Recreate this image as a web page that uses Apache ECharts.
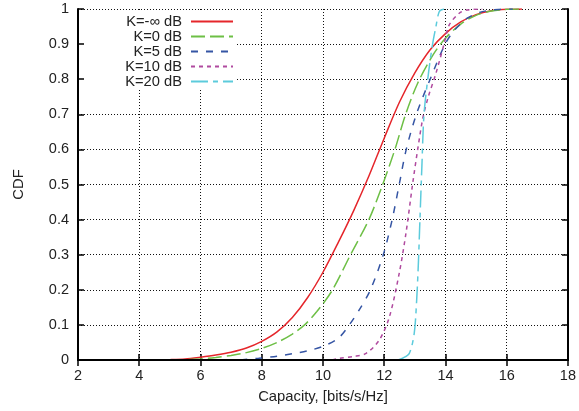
<!DOCTYPE html>
<html>
<head>
<meta charset="utf-8">
<script src="https://cdn.jsdelivr.net/npm/echarts@6/dist/echarts.min.js"></script>
<style>
  html, body { margin: 0; padding: 0; background: #fff; }
  #chart { width: 579px; height: 411px; }
</style>
</head>
<body>
<div id="chart"></div>
<script>
// Capacity CDFs for different Rician K-factors
const seriesNames = ['K=-\u221E dB', 'K=0 dB', 'K=5 dB', 'K=10 dB', 'K=20 dB'];

const capRayleigh = [4.5, 5, 5.5, 6, 6.5, 7, 7.5, 8, 8.5, 9, 9.5, 10, 10.5, 11, 11.5, 12, 12.5, 13, 13.5, 14, 14.5, 15, 15.5, 16, 16.5];
const cdfRayleigh = [0, 0.001, 0.003, 0.008, 0.014, 0.022, 0.034, 0.053, 0.08, 0.121, 0.178, 0.25, 0.335, 0.425, 0.524, 0.632, 0.735, 0.818, 0.884, 0.93, 0.963, 0.984, 0.995, 0.999, 1];

const capK0 = [5, 5.5, 6, 6.5, 7, 7.5, 8, 8.5, 9, 9.4, 9.8, 10.3, 10.9, 11.5, 11.95, 12.35, 12.7, 13.1, 13.6, 14, 14.5, 15, 15.5, 16, 16.5];
const cdfK0 = [0, 0.001, 0.003, 0.007, 0.013, 0.021, 0.033, 0.05, 0.074, 0.1, 0.138, 0.198, 0.3, 0.4, 0.5, 0.6, 0.7, 0.79, 0.87, 0.917, 0.957, 0.982, 0.994, 0.999, 1];

const capK5 = [7.3, 7.9, 8.5, 9, 9.5, 10, 10.5, 10.86, 11.2, 11.55, 11.97, 12.26, 12.49, 12.72, 13.05, 13.5, 13.99, 14.3, 14.7, 15.1, 15.6, 16.2];
const cdfK5 = [0, 0.005, 0.011, 0.018, 0.026, 0.039, 0.062, 0.1, 0.145, 0.2, 0.3, 0.4, 0.5, 0.6, 0.7, 0.8, 0.9, 0.94, 0.973, 0.99, 0.998, 1];

const capK10 = [10.3, 10.54, 11, 11.41, 11.84, 12.17, 12.49, 12.71, 12.93, 13.09, 13.27, 13.44, 13.69, 13.96, 14.12, 14.45, 14.7, 15.2];
const cdfK10 = [0, 0.005, 0.01, 0.019, 0.057, 0.123, 0.247, 0.361, 0.503, 0.598, 0.693, 0.75, 0.817, 0.902, 0.954, 0.988, 0.997, 1];

const capK20 = [12.45, 12.6, 12.82, 12.98, 13.06, 13.12, 13.17, 13.23, 13.3, 13.45, 13.58, 13.69, 13.8, 13.95];
const cdfK20 = [0, 0.005, 0.019, 0.076, 0.171, 0.285, 0.408, 0.551, 0.7, 0.82, 0.9, 0.95, 0.993, 1];

const yTicks = [0, 0.1, 0.2, 0.3, 0.4, 0.5, 0.6, 0.7, 0.8, 0.9, 1];

const colors = ['#e5262b', '#6dbf45', '#3555a4', '#b04a9f', '#5ccbdc'];
const dashes = ['solid', [14, 5], [7, 8], [4, 4], [17, 5, 5, 5]];

const pairs = (xs, ys) => xs.map((x, i) => [x, ys[i]]);
const curves = [
  pairs(capRayleigh, cdfRayleigh),
  pairs(capK0, cdfK0),
  pairs(capK5, cdfK5),
  pairs(capK10, cdfK10),
  pairs(capK20, cdfK20)
];

const font = 'Liberation Sans, Arial, Helvetica, sans-serif';
const txt = '#222';

const chart = echarts.init(document.getElementById('chart'), null, { renderer: 'canvas' });

const series = curves.map((d, i) => ({
  name: seriesNames[i],
  type: 'line',
  data: d,
  showSymbol: false,
  symbol: 'none',
  smooth: 0.3,
  z: 3,
  lineStyle: { color: colors[i], width: 1.5, type: dashes[i] },
  itemStyle: { color: colors[i] }
}));

// frame pieces (border + inward ticks) drawn above the key box
const frameTicks = { show: true, inside: true, length: 6, lineStyle: { color: '#000', width: 1.5 } };
const frameLine = { show: true, lineStyle: { color: '#000', width: 2 } };

chart.setOption({
  animation: false,
  backgroundColor: '#fff',
  grid: { left: 78, right: 10, top: 9, bottom: 51, containLabel: false },
  legend: {
    orient: 'vertical',
    left: 79,
    top: 10,
    align: 'right',
    itemWidth: 42,
    itemHeight: 8,
    itemGap: 0,
    padding: [4, 3, 0, 20],
    backgroundColor: '#fff',
    z: 4,
    itemStyle: { opacity: 0 },
    data: seriesNames,
    formatter: n => '{t|' + n + '}',
    textStyle: {
      fontFamily: font,
      fontSize: 14.7,
      color: txt,
      rich: { t: { width: 83, align: 'right', fontFamily: font, fontSize: 14.7, color: txt, lineHeight: 14.7, padding: [0, 4, 0, 0] } }
    }
  },
  xAxis: [
    {
      type: 'value', position: 'bottom', min: 2, max: 18, interval: 2,
      name: 'Capacity, [bits/s/Hz]', nameLocation: 'middle', nameGap: 29,
      nameTextStyle: { fontFamily: font, fontSize: 14.8, color: txt },
      axisLine: frameLine,
      axisTick: frameTicks,
      axisLabel: { fontFamily: font, fontSize: 14.5, color: txt, margin: 8 },
      splitLine: { show: true, lineStyle: { color: '#111', width: 1, type: [1, 2] } }
    },
    {
      type: 'value', position: 'top', min: 2, max: 18, interval: 2, z: 10,
      axisLine: frameLine,
      axisTick: frameTicks,
      axisLabel: { show: false },
      splitLine: { show: false }
    }
  ],
  yAxis: [
    {
      type: 'value', position: 'left', min: 0, max: 1, interval: 0.1,
      name: 'CDF', nameLocation: 'middle', nameGap: 52, nameRotate: 90,
      nameTextStyle: { fontFamily: font, fontSize: 14.8, color: txt },
      axisLine: { show: false },
      axisTick: { show: false },
      axisLabel: {
        fontFamily: font, fontSize: 14.5, color: txt, margin: 9,
        formatter: v => {
          const t = yTicks.find(y => Math.abs(y - v) < 1e-9);
          return t === undefined ? '' : String(t);
        }
      },
      splitLine: { show: true, lineStyle: { color: '#111', width: 1, type: [1, 2] } }
    },
    {
      type: 'value', position: 'right', min: 0, max: 1, interval: 0.1, z: 10,
      axisLine: frameLine,
      axisTick: frameTicks,
      axisLabel: { show: false },
      splitLine: { show: false }
    },
    {
      type: 'value', position: 'left', min: 0, max: 1, interval: 0.1, z: 10, offset: 0,
      axisLine: frameLine,
      axisTick: frameTicks,
      axisLabel: { show: false },
      splitLine: { show: false }
    }
  ],
  series: series
});
</script>
</body>
</html>
